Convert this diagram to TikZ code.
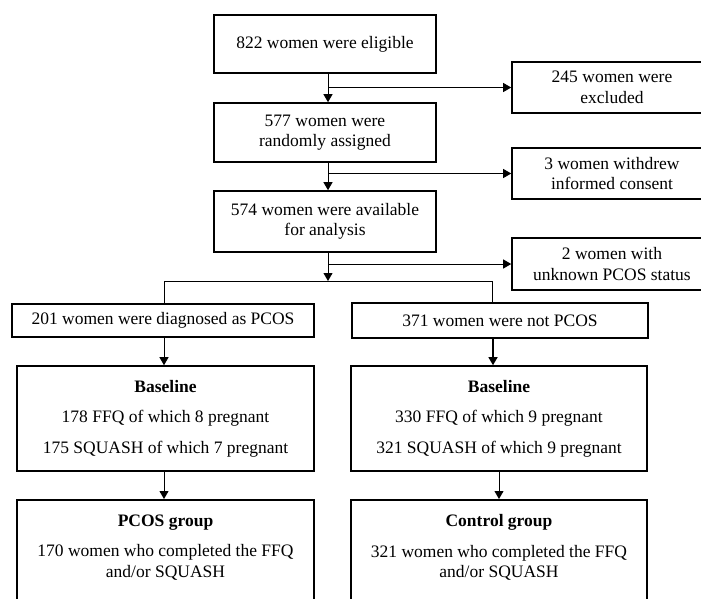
\documentclass[tikz,border=0pt]{standalone}
\usepackage{fontspec}
\setmainfont{Liberation Serif}
\usetikzlibrary{arrows.meta}
\usetikzlibrary{positioning}
\tikzset{
flowbox/.style={draw, line width=1.6pt, align=center, inner sep=0pt,
  font=\fontsize{17.5}{20.5}\selectfont},
flowline/.style={line width=0.9pt},
flowarrow/.style={flowline, -{Triangle[width=9pt,length=8pt]}}
}
\begin{document}
\begin{tikzpicture}[x=1pt,y=-1pt]
\useasboundingbox (0,0) rectangle (701,598);
\clip (0,0) rectangle (701,598);
\node[flowbox, minimum width=222pt, minimum height=58pt] (elig) at (325,44) {822 women were eligible};
\node[flowbox, minimum width=200pt, minimum height=51pt] (excl) at (612,87.5) {245 women were\\excluded};
\node[flowbox, minimum width=222pt, minimum height=59pt] (rand) at (325,132.5) {577 women were\\randomly assigned};
\node[flowbox, minimum width=200pt, minimum height=51pt] (withdrew) at (612,173.5) {3 women withdrew\\informed consent};
\node[flowbox, minimum width=222pt, minimum height=61pt] (avail) at (325,221.5) {574 women were available\\for analysis};
\node[flowbox, minimum width=200pt, minimum height=52pt] (unknown) at (612,264) {2 women with\\unknown PCOS status};
\node[flowbox, minimum width=302pt, minimum height=33pt] (pcos) at (163,320.5) {201 women were diagnosed as PCOS};
\node[flowbox, minimum width=296pt, minimum height=35pt] (notpcos) at (500,320.5) {371 women were not PCOS};
\node[flowbox, minimum width=297pt, minimum height=105pt] (baseL) at (165.5,418.5) {\textbf{Baseline}\\[10pt]178 FFQ of which 8 pregnant\\[10pt]175 SQUASH of which 7 pregnant};
\node[flowbox, minimum width=296pt, minimum height=105pt] (baseR) at (499,418.5) {\textbf{Baseline}\\[10pt]330 FFQ of which 9 pregnant\\[10pt]321 SQUASH of which 9 pregnant};
\node[flowbox, anchor=north] (grpL) at (165.5,499) {\parbox[c][112pt][t]{297pt}{\centering\vspace{15pt}\textbf{PCOS group}\\[10pt]170 women who completed the FFQ\\and/or SQUASH}};
\node[flowbox, anchor=north] (grpR) at (499,499) {\parbox[c][112pt][t]{296pt}{\centering\vspace{15pt}\textbf{Control group}\\[10pt]321 women who completed the FFQ\\and/or SQUASH}};
\coordinate (trunk) at (328,0);
\coordinate (branchL) at (164,281);
\coordinate (branchR) at (492,281);
\draw[flowarrow] (trunk |- elig.south) -- (trunk |- rand.north);
\draw[flowarrow] (trunk |- excl.west) -- (excl.west);
\draw[flowarrow] (trunk |- rand.south) -- (trunk |- avail.north);
\draw[flowarrow] (trunk |- withdrew.west) -- (withdrew.west);
\draw[flowarrow] (trunk |- unknown.west) -- (unknown.west);
\draw[flowarrow] (trunk |- avail.south) -- (trunk |- branchL);
\draw[flowline] (branchL) -- (branchR);
\draw[flowline] (branchL) -- (branchL |- pcos.north);
\draw[flowline] (branchR) -- (branchR |- notpcos.north);
\draw[flowarrow] (branchL |- pcos.south) -- (branchL |- baseL.north);
\draw[flowarrow, line width=1.3pt] ([xshift=-7pt]notpcos.south) -- ([xshift=-7pt]notpcos.south |- baseR.north);
\draw[flowarrow] (branchL |- baseL.south) -- (branchL |- grpL.north);
\draw[flowarrow] (baseR.south) -- (grpR.north);
\end{tikzpicture}
\end{document}
